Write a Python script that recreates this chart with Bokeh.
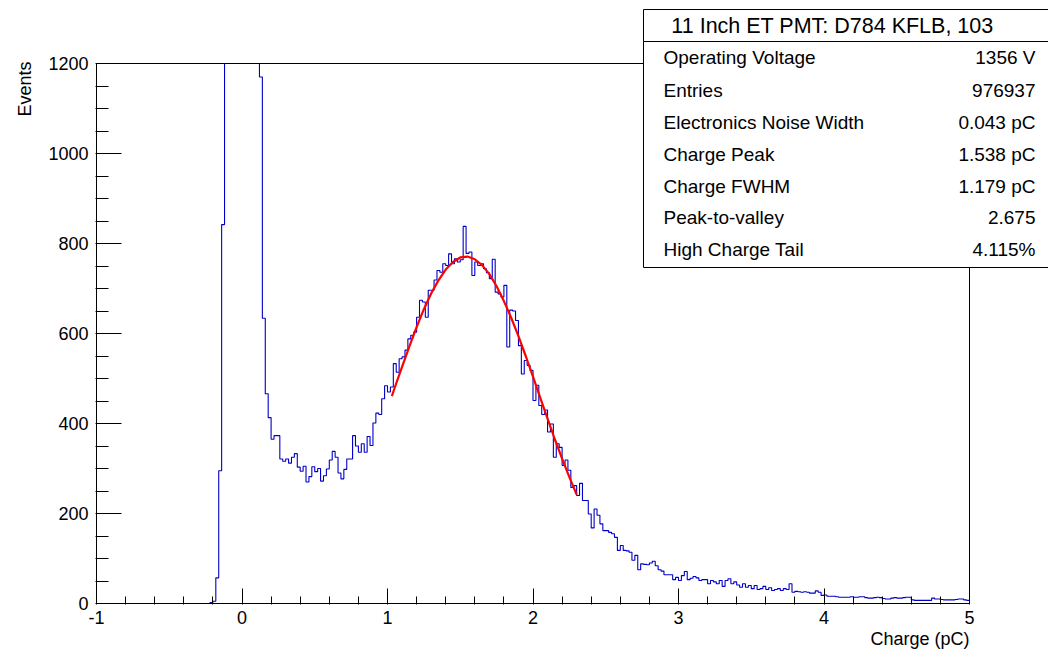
import numpy as np
from bokeh.plotting import figure
from bokeh.models import FixedTicker, Label, BoxAnnotation, Range1d, Title
from bokeh.embed import file_html
from bokeh.resources import INLINE

# ---------------- data ----------------
bin_low = -1.0
bin_width = 0.02
# 300 bins from -1 to 5 pC (bins at the pedestal are shown clipped at 1200)
counts = [
    0, 0, 0, 0, 0, 0, 0, 0, 0, 0,
    0, 0, 0, 0, 0, 0, 0, 0, 0, 0,
    0, 0, 0, 0, 0, 0, 0, 0, 0, 0,
    0, 0, 0, 0, 0, 0, 0, 0, 0, 2,
    5, 57, 295, 842, 1200, 1200, 1200, 1200, 1200, 1200,
    1200, 1200, 1200, 1200, 1200, 1200, 1170, 634, 466, 413,
    365, 373, 373, 321, 316, 321, 312, 325, 333, 303,
    294, 305, 270, 282, 304, 293, 300, 272, 284, 299,
    319, 338, 325, 290, 277, 298, 321, 321, 373, 350,
    336, 355, 336, 371, 351, 401, 423, 420, 455, 484,
    470, 481, 533, 514, 544, 548, 563, 588, 596, 603,
    636, 674, 670, 636, 696, 696, 719, 740, 736, 755,
    751, 777, 755, 766, 759, 764, 838, 778, 781, 729,
    759, 751, 755, 744, 735, 722, 765, 692, 688, 681,
    707, 570, 652, 650, 629, 573, 510, 540, 529, 518,
    451, 485, 440, 420, 430, 381, 399, 325, 355, 347,
    307, 319, 296, 258, 262, 240, 267, 229, 229, 199,
    168, 210, 196, 177, 162, 162, 158, 155, 147, 118,
    129, 118, 117, 114, 96, 107, 75, 88, 87, 86,
    90, 94, 84, 75, 72, 64, 64, 64, 53, 58,
    51, 62, 71, 53, 56, 60, 57, 51, 53, 53,
    44, 51, 48, 44, 51, 38, 51, 55, 44, 48,
    41, 36, 44, 36, 40, 33, 40, 31, 33, 38,
    31, 35, 29, 31, 33, 29, 33, 31, 44, 25,
    27, 26, 25, 26, 25, 23, 23, 28, 25, 18,
    19, 16, 16, 16, 15, 14, 14, 14, 14, 15,
    14, 14, 15, 15, 13, 12, 12, 13, 14, 13,
    11, 10, 10, 12, 13, 12, 12, 13, 14, 14,
    8, 7, 7, 7, 7, 7, 7, 12, 10, 10,
    9, 8, 8, 8, 8, 9, 10, 10, 8, 7,
]

# Gaussian fit curve
fit_x = [1.03, 1.05, 1.10, 1.15, 1.20, 1.25, 1.30, 1.35, 1.40, 1.45, 1.50, 1.55,
         1.60, 1.65, 1.70, 1.75, 1.80, 1.85, 1.90, 1.95, 2.00, 2.05, 2.10, 2.15,
         2.20, 2.25, 2.30]
fit_y = [461, 480, 526, 571, 614, 654, 689, 718, 742, 759, 769, 771,
         765, 752, 732, 705, 672, 635, 594, 550, 504, 457, 411, 365,
         322, 281, 242]

x_min, x_max = -1, 5
y_min, y_max = 0, 1200
x_major = [-1, 0, 1, 2, 3, 4, 5]
x_minor = [-0.8, -0.6, -0.4, -0.2, 0.2, 0.4, 0.6, 0.8, 1.2, 1.4, 1.6, 1.8,
           2.2, 2.4, 2.6, 2.8, 3.2, 3.4, 3.6, 3.8, 4.2, 4.4, 4.6, 4.8]
y_major = [0, 200, 400, 600, 800, 1000, 1200]
y_minor = [50, 100, 150, 250, 300, 350, 450, 500, 550, 650, 700, 750,
           850, 900, 950, 1050, 1100, 1150]

stats_title = "11 Inch ET PMT: D784 KFLB, 103"
stats_names = ["Operating Voltage", "Entries", "Electronics Noise Width",
               "Charge Peak", "Charge FWHM", "Peak-to-valley", "High Charge Tail"]
stats_values = ["1356 V", "976937", "0.043 pC", "1.538 pC", "1.179 pC",
                "2.675", "4.115%"]

x_title = "Charge (pC)"
y_title = "Events"

# ---------------- layout (pixels) ----------------
W, H = 1048, 650
FONT = "Liberation Sans"
ax_left_px, ax_right_px = 96, 969      # where x_min / x_max sit
ax_top_px, ax_bottom_px = 63, 603      # where y_max / y_min sit
frame_left, frame_bottom = 95, 604     # frame reaches the canvas top and right
sx = (ax_right_px - ax_left_px) / (x_max - x_min)
sy = (ax_bottom_px - ax_top_px) / (y_max - y_min)
x_start = x_min - (ax_left_px - frame_left) / sx
x_end = x_min + (W - ax_left_px) / sx
y_start = y_min - (frame_bottom - ax_bottom_px) / sy
y_end = y_min + ax_bottom_px / sy


def dx(px):
    return x_min + (px - ax_left_px) / sx


def dy(py):
    return y_min + (ax_bottom_px - py) / sy


p = figure(width=W, height=H, output_backend="svg", toolbar_location=None,
           title=None,
           x_range=Range1d(x_start, x_end), y_range=Range1d(y_start, y_end),
           min_border_left=frame_left, min_border_right=0, min_border_top=0,
           min_border_bottom=H - frame_bottom)
p.background_fill_color = "white"
p.border_fill_color = "white"
p.outline_line_color = None
p.xgrid.visible = False
p.ygrid.visible = False

edges = np.round(bin_low + bin_width * np.arange(len(counts) + 1), 4)
shown = np.minimum(np.array(counts + [counts[-1]], dtype=float), y_max)
p.step(edges, shown, mode="after", line_color="#0000c8", line_width=1.1)
p.line(fit_x, fit_y, line_color="#ff0000", line_width=2.2)

# axes: Bokeh ticks/labels, axis lines drawn by the frame box
p.xaxis.ticker = FixedTicker(ticks=x_major, minor_ticks=x_minor)
p.yaxis.ticker = FixedTicker(ticks=y_major, minor_ticks=y_minor)
p.xaxis.major_label_overrides = {-1: "-1"}
for ax in (p.xaxis, p.yaxis):
    ax.axis_line_color = None
    ax.major_tick_line_color = "black"
    ax.minor_tick_line_color = "black"
    ax.major_tick_out = 0
    ax.minor_tick_out = 0
    ax.major_label_text_font = FONT
    ax.major_label_text_font_size = "18px"
    ax.major_label_text_color = "black"
p.xaxis.major_tick_in = 16
p.xaxis.minor_tick_in = 8
p.xaxis.major_label_standoff = 6
p.yaxis.major_tick_in = 26
p.yaxis.minor_tick_in = 13
p.yaxis.major_label_standoff = 7

p.add_layout(BoxAnnotation(left=x_min, right=x_max, bottom=y_min, top=y_max,
                           fill_color=None, fill_alpha=0, line_color="black",
                           line_width=1, line_alpha=1, level="overlay"))

# axis titles aligned to the axis ends (ROOT style)
p.add_layout(Title(text=x_title, align="right", offset=(W - ax_right_px),
                   standoff=0, text_font=FONT, text_font_size="18px",
                   text_font_style="normal", text_color="black"), "below")
p.add_layout(Title(text=y_title, align="right", offset=61, standoff=21,
                   text_font=FONT, text_font_size="18px",
                   text_font_style="normal", text_color="black"), "left")

# stats box
box_left, box_right = dx(643), dx(1060)
p.add_layout(BoxAnnotation(left=box_left, right=box_right, bottom=dy(41), top=dy(9),
                           fill_color="white", fill_alpha=1, line_color="black",
                           line_width=1, line_alpha=1, level="overlay"))
p.add_layout(BoxAnnotation(left=box_left, right=box_right, bottom=dy(267), top=dy(41),
                           fill_color="white", fill_alpha=1, line_color="black",
                           line_width=1, line_alpha=1, level="overlay"))
p.add_layout(Label(x=dx(832), y=dy(25), text=stats_title, text_align="center",
                   text_baseline="middle", text_font=FONT, text_font_size="21.5px",
                   text_color="black", level="overlay"))
row_px = [57, 90, 122, 154, 186, 217, 249]
for name, val, ypx in zip(stats_names, stats_values, row_px):
    p.add_layout(Label(x=dx(663), y=dy(ypx), text=name, text_align="left",
                       text_baseline="middle", text_font=FONT,
                       text_font_size="19px", text_color="black", level="overlay"))
    p.add_layout(Label(x=dx(1035), y=dy(ypx), text=val, text_align="right",
                       text_baseline="middle", text_font=FONT,
                       text_font_size="19px", text_color="black", level="overlay"))

open("out.html", "w").write(file_html(p, INLINE))
